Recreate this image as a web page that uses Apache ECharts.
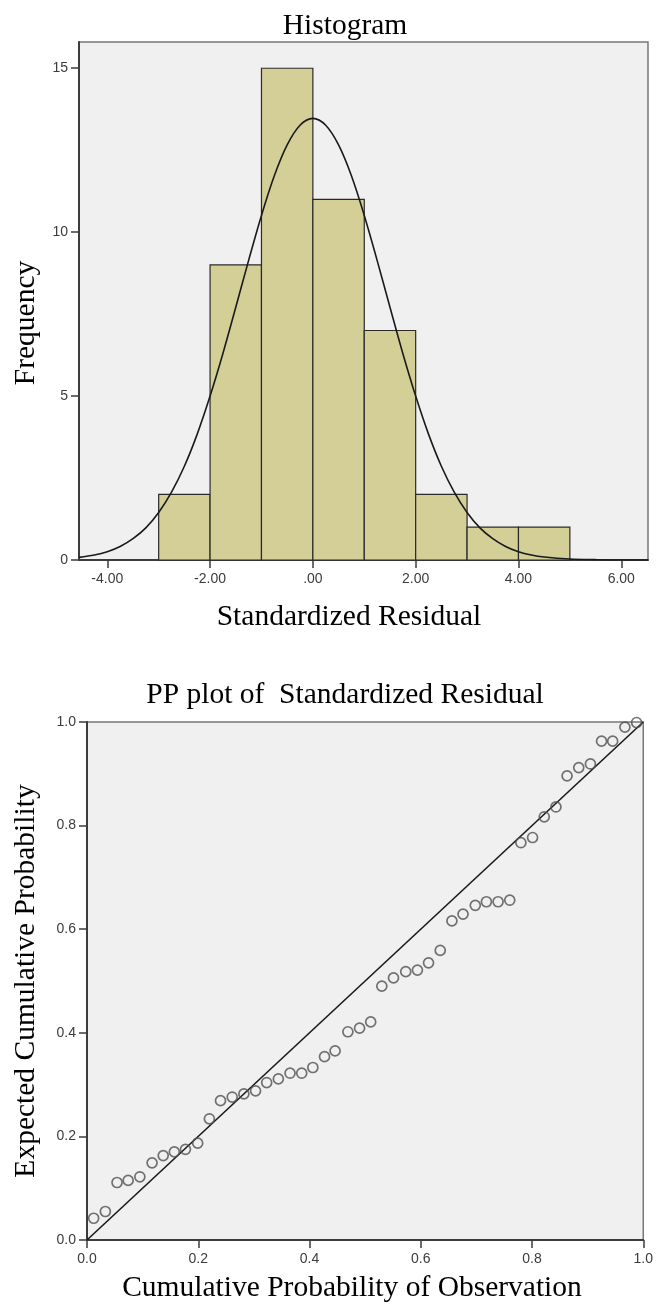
<!DOCTYPE html>
<html>
<head>
<meta charset="utf-8">
<script src="https://cdn.jsdelivr.net/npm/echarts@6/dist/echarts.min.js"></script>
<style>
html,body{margin:0;padding:0;background:#fff;}
#chart{width:656px;height:1307px;}
</style>
</head>
<body>
<div id="chart"></div>
<script>
// ---- Histogram data ----
const histBinStart = [-3, -2, -1, 0, 1, 2, 3, 4];
const histBinEnd   = [-2, -1, 0, 1, 2, 3, 4, 5];
const histCounts   = [2, 9, 15, 11, 7, 2, 1, 1];
// normal curve
const curveX = [-4.55, -4.25, -4, -3.75, -3.5, -3.25, -3, -2.75, -2.5, -2.25, -2, -1.75, -1.5, -1.25, -1, -0.75, -0.5, -0.25, 0,
                0.25, 0.5, 0.75, 1, 1.25, 1.5, 1.75, 2, 2.25, 2.5, 2.75, 3, 3.25, 3.5, 3.75, 4, 4.25, 4.5, 5, 5.5, 6, 6.52];
const curveY = [0.08, 0.15, 0.25, 0.41, 0.65, 0.98, 1.45, 2.07, 2.86, 3.84, 5.0, 6.3, 7.71, 9.14, 10.51, 11.72, 12.66, 13.26, 13.47,
                13.26, 12.66, 11.72, 10.51, 9.14, 7.71, 6.3, 5.0, 3.84, 2.86, 2.07, 1.45, 0.98, 0.65, 0.41, 0.25, 0.15, 0.09, 0.03, 0.01, 0.0, 0.0];
const histXTicks = [-4, -2, 0, 2, 4, 6];
const histYTicks = [0, 5, 10, 15];

// ---- PP plot data ----
const ppObserved = [0.012, 0.033, 0.054, 0.074, 0.095, 0.117, 0.137, 0.157, 0.177, 0.199, 0.220, 0.240,
                    0.261, 0.282, 0.303, 0.323, 0.344, 0.365, 0.386, 0.406, 0.427, 0.446, 0.469, 0.490,
                    0.510, 0.530, 0.551, 0.573, 0.594, 0.614, 0.635, 0.656, 0.676, 0.698, 0.718, 0.739,
                    0.760, 0.780, 0.801, 0.822, 0.843, 0.863, 0.884, 0.905, 0.925, 0.945, 0.967, 0.988];
const ppExpected = [0.042, 0.055, 0.111, 0.115, 0.122, 0.149, 0.163, 0.170, 0.175, 0.187, 0.234, 0.269,
                    0.276, 0.282, 0.288, 0.304, 0.311, 0.322, 0.322, 0.333, 0.354, 0.365, 0.402, 0.409,
                    0.421, 0.490, 0.506, 0.518, 0.521, 0.535, 0.559, 0.616, 0.629, 0.646, 0.653, 0.653,
                    0.656, 0.767, 0.777, 0.817, 0.836, 0.896, 0.912, 0.919, 0.963, 0.963, 0.990, 0.999];
const refLineX = [0, 1];
const refLineY = [0, 1];
const ppTicks = [0, 0.2, 0.4, 0.6, 0.8, 1.0];

const serif = '"Liberation Serif", "Times New Roman", serif';
const sans = '"Liberation Sans", Arial, sans-serif';
const axisColor = '#3c3c3c';
const titleSize = 29.5;

const chart = echarts.init(document.getElementById('chart'), null, {renderer: 'canvas'});

function valueAxis(grid, min, max, ticks, fmt, margin, extra) {
  return Object.assign({
    type: 'value', gridIndex: grid, min: min, max: max,
    splitLine: {show: false},
    axisLine: {show: true, onZero: false, lineStyle: {color: axisColor, width: 2}},
    axisTick: {show: true, inside: false, length: 8, customValues: ticks, lineStyle: {color: axisColor, width: 1.5}},
    axisLabel: {customValues: ticks, formatter: fmt, margin: margin, fontFamily: sans, fontSize: 14, color: '#3c3c3c'}
  }, extra || {});
}

function axisTitle(text, x, y, rotated) {
  return {
    type: 'text', x: x, y: y, rotation: rotated ? Math.PI / 2 : 0, silent: true,
    style: {text: text, fontFamily: serif, fontSize: titleSize, fill: '#000', align: 'center', verticalAlign: 'middle'}
  };
}

const option = {
  animation: false,
  backgroundColor: '#fff',
  title: [
    {text: 'Histogram', left: 340, top: 6, textAlign: 'center',
     textStyle: {fontFamily: serif, fontSize: titleSize, fontWeight: 'normal', color: '#000'}},
    {text: 'PP plot of  Standardized Residual', left: 340, top: 675, textAlign: 'center',
     textStyle: {fontFamily: serif, fontSize: titleSize, fontWeight: 'normal', color: '#000'}}
  ],
  graphic: [
    axisTitle('Standardized Residual', 349, 617, false),
    axisTitle('Frequency', 26, 323, true),
    axisTitle('Cumulative Probability of Observation', 352, 1288, false),
    axisTitle('Expected Cumulative Probability', 26, 981, true)
  ],
  grid: [
    {left: 79, right: 8, top: 42, bottom: 747, show: true, backgroundColor: '#f0f0f0', borderColor: '#777', borderWidth: 1.5},
    {left: 87, right: 9, top: 722, bottom: 67, show: true, backgroundColor: '#f0f0f0', borderColor: '#777', borderWidth: 1.5}
  ],
  xAxis: [
    valueAxis(0, -4.55, 6.52, histXTicks, v => (v === 0 ? '.00' : v.toFixed(2)), 12),
    valueAxis(1, 0, 1, ppTicks, v => v.toFixed(1), 12, {interval: 0.2})
  ],
  yAxis: [
    valueAxis(0, 0, 15.8, histYTicks, v => String(v), 11),
    valueAxis(1, 0, 1, ppTicks, v => v.toFixed(1), 11, {interval: 0.2})
  ],
  series: [
    {
      type: 'custom', xAxisIndex: 0, yAxisIndex: 0,
      data: histCounts.map((c, i) => [histBinStart[i], histBinEnd[i], c]),
      encode: {x: [0, 1], y: 2},
      renderItem: function (params, api) {
        const p0 = api.coord([api.value(0), api.value(2)]);
        const p1 = api.coord([api.value(1), 0]);
        return {
          type: 'rect',
          shape: {x: p0[0], y: p0[1], width: p1[0] - p0[0], height: p1[1] - p0[1]},
          style: {fill: '#d3cf97', stroke: '#2a2a2a', lineWidth: 1.2}
        };
      },
      z: 2
    },
    {
      type: 'line', xAxisIndex: 0, yAxisIndex: 0,
      data: curveX.map((x, i) => [x, curveY[i]]),
      smooth: 0.35, showSymbol: false, symbol: 'none',
      lineStyle: {color: '#1a1a1a', width: 1.6},
      z: 3
    },
    {
      type: 'line', xAxisIndex: 1, yAxisIndex: 1,
      data: refLineX.map((x, i) => [x, refLineY[i]]),
      showSymbol: false, symbol: 'none',
      lineStyle: {color: '#1a1a1a', width: 1.6},
      z: 3
    },
    {
      type: 'scatter', xAxisIndex: 1, yAxisIndex: 1,
      data: ppObserved.map((x, i) => [x, ppExpected[i]]),
      symbol: 'circle', symbolSize: 10,
      itemStyle: {color: 'rgba(0,0,0,0)', borderColor: '#505050', borderWidth: 1.7},
      z: 4
    }
  ]
};
chart.setOption(option);
</script>
</body>
</html>
